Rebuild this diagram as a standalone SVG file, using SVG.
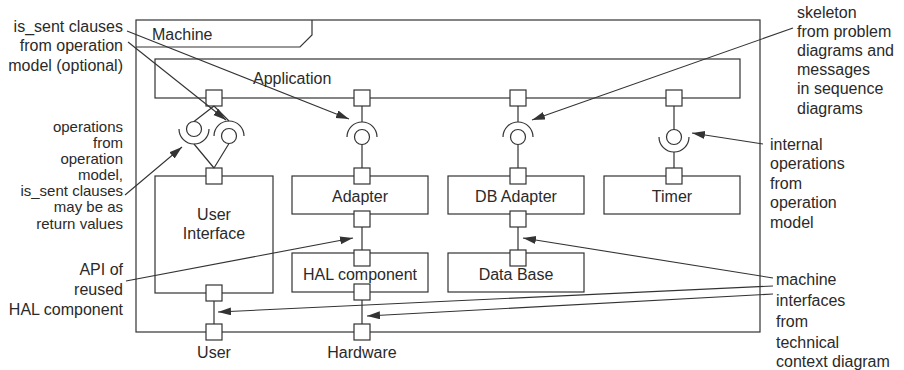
<svg xmlns="http://www.w3.org/2000/svg" width="904" height="370" viewBox="0 0 904 370">
<defs>
<style>
text{font-family:"Liberation Sans",Arial,sans-serif;font-size:16px;fill:#2a2a2a}
.n{fill:#fff;stroke:#333;stroke-width:1.2}
.p{fill:#fff;stroke:#333;stroke-width:1.2}
.l{fill:none;stroke:#333;stroke-width:1.2}
.a{fill:none;stroke:#333;stroke-width:1.1;marker-end:url(#ah)}
.r{text-anchor:end}
.c{text-anchor:middle}
.s{font-size:15px}
</style>
<marker id="ah" markerUnits="userSpaceOnUse" markerWidth="14" markerHeight="10" refX="13" refY="4" orient="auto">
<path d="M0,0 L13,4 L0,8 Z" fill="#333"/>
</marker>
</defs>

<g id="machine">
<rect x="136" y="20" width="624" height="312" class="n"/>
<path d="M136,47 H300 L312,35 V20" class="l"/>
<text x="152" y="40">Machine</text>
</g>

<g id="application">
<rect x="155" y="59" width="585" height="39" class="n"/>
<text x="253" y="84">Application</text>
<rect x="206" y="90" width="16" height="16" class="p"/>
<rect x="354" y="90" width="16" height="16" class="p"/>
<rect x="510" y="90" width="16" height="16" class="p"/>
<rect x="666" y="90" width="16" height="16" class="p"/>
</g>

<g id="user-interface">
<rect x="155" y="176" width="118" height="117" class="n"/>
<text x="214" y="220" class="c">User</text>
<text x="214" y="239" class="c">Interface</text>
<rect x="206" y="168" width="16" height="16" class="p"/>
<rect x="206" y="285" width="16" height="16" class="p"/>
</g>

<g id="adapter">
<rect x="292" y="176" width="136" height="38" class="n"/>
<text x="360" y="202" class="c">Adapter</text>
<rect x="354" y="168" width="16" height="16" class="p"/>
<rect x="354" y="211" width="16" height="16" class="p"/>
</g>

<g id="db-adapter">
<rect x="448" y="176" width="136" height="38" class="n"/>
<text x="516" y="202" class="c">DB Adapter</text>
<rect x="510" y="168" width="16" height="16" class="p"/>
<rect x="510" y="211" width="16" height="16" class="p"/>
</g>

<g id="timer">
<rect x="604" y="176" width="136" height="38" class="n"/>
<text x="672" y="202" class="c">Timer</text>
<rect x="666" y="168" width="16" height="16" class="p"/>
</g>

<g id="hal-component">
<rect x="292" y="253" width="136" height="39" class="n"/>
<text x="360" y="280" class="c">HAL component</text>
<rect x="354" y="250" width="16" height="16" class="p"/>
<rect x="354" y="284" width="16" height="16" class="p"/>
</g>

<g id="data-base">
<rect x="448" y="253" width="136" height="39" class="n"/>
<text x="516" y="280" class="c">Data Base</text>
<rect x="510" y="250" width="16" height="16" class="p"/>
</g>

<g id="user">
<rect x="206" y="324" width="16" height="16" class="p"/>
<text x="214" y="358" class="c">User</text>
</g>

<g id="hardware">
<rect x="354" y="324" width="16" height="16" class="p"/>
<text x="362" y="358" class="c">Hardware</text>
</g>

<g id="connectors">
<path d="M214,106 L194,121.5 M214,106 L229,121 M194,144 L214,168 M229,143.5 L214,168" class="l"/>
<circle cx="194" cy="129" r="7.5" class="l"/>
<path d="M179,129 A15,15 0 0 0 209,129" class="l"/>
<circle cx="229" cy="136" r="7.5" class="l"/>
<path d="M214,136 A15,15 0 0 1 244,136" class="l"/>
<path d="M362,106 V122 M362,144.5 V168" class="l"/>
<circle cx="362" cy="137" r="7.5" class="l"/>
<path d="M347,137 A15,15 0 0 1 377,137" class="l"/>
<path d="M518,106 V122 M518,144.5 V168" class="l"/>
<circle cx="518" cy="137" r="7.5" class="l"/>
<path d="M503,137 A15,15 0 0 1 533,137" class="l"/>
<path d="M674,106 V129.5 M674,152 V168" class="l"/>
<circle cx="674" cy="137" r="7.5" class="l"/>
<path d="M659,137 A15,15 0 0 0 689,137" class="l"/>
<path d="M362,227 V250 M518,227 V250 M214,301 V324 M362,300 V324" class="l"/>
<path d="M127,31 L349,119" class="a"/>
<path d="M128,42 L226,120" class="a"/>
<path d="M125,195 L182,147" class="a"/>
<path d="M126,281 L353,238" class="a"/>
<path d="M793,28 L532,120" class="a"/>
<path d="M763,144 L692,133" class="a"/>
<path d="M773,278 L523,238" class="a"/>
<path d="M773,286 L218,312" class="a"/>
<path d="M773,294 L367,316" class="a"/>
</g>

<g id="notes">
<text x="123" y="32" class="r">is_sent clauses</text>
<text x="123" y="51" class="r">from operation</text>
<text x="123" y="71" class="r">model (optional)</text>

<text x="123" y="132" class="r s">operations</text>
<text x="123" y="148" class="r s">from</text>
<text x="123" y="164" class="r s">operation</text>
<text x="123" y="180" class="r s">model,</text>
<text x="123" y="196" class="r s">is_sent clauses</text>
<text x="123" y="212" class="r s">may be as</text>
<text x="123" y="229" class="r s">return values</text>

<text x="123" y="275" class="r">API of</text>
<text x="123" y="295" class="r">reused</text>
<text x="123" y="315" class="r">HAL component</text>

<text x="797" y="18">skeleton</text>
<text x="797" y="37">from problem</text>
<text x="797" y="56">diagrams and</text>
<text x="797" y="75">messages</text>
<text x="797" y="94">in sequence</text>
<text x="797" y="114">diagrams</text>

<text x="770" y="150">internal</text>
<text x="770" y="169">operations</text>
<text x="770" y="189">from</text>
<text x="770" y="208">operation</text>
<text x="770" y="228">model</text>

<text x="776" y="285">machine</text>
<text x="776" y="306">interfaces</text>
<text x="776" y="327">from</text>
<text x="776" y="348">technical</text>
<text x="776" y="367">context diagram</text>
</g>
</svg>
